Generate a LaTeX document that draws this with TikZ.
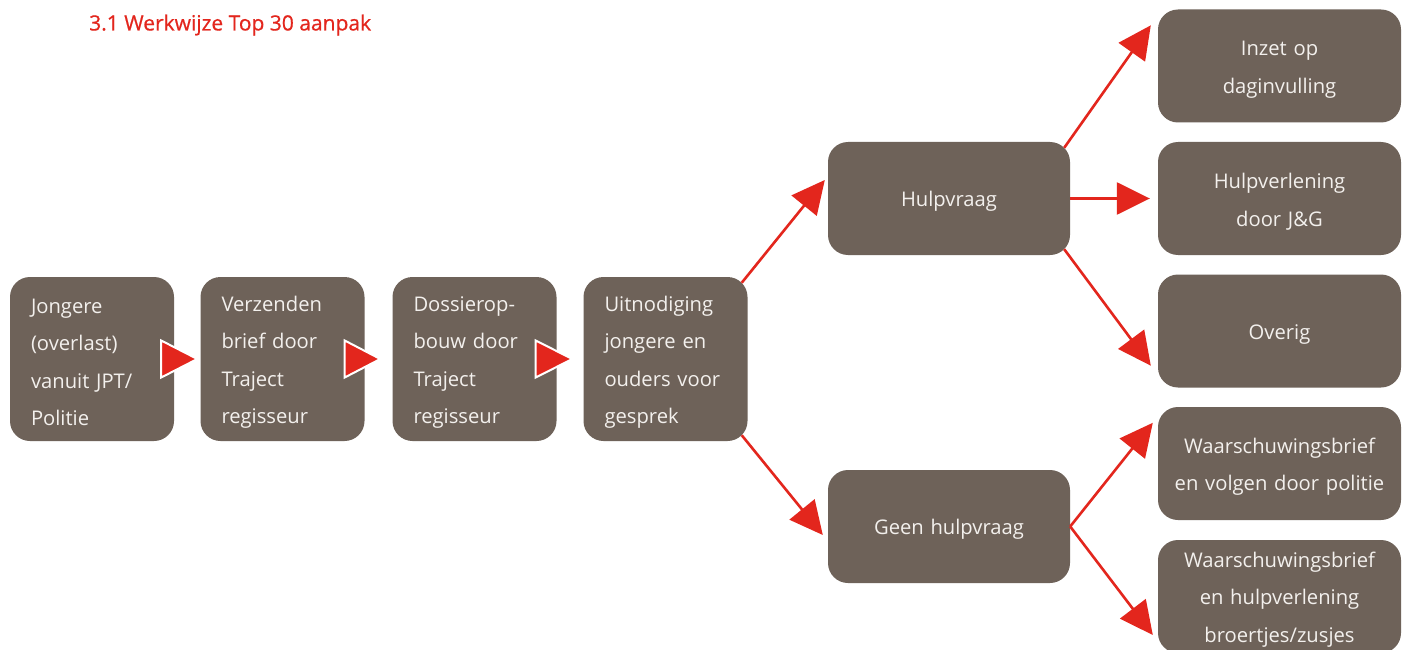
\documentclass[tikz,border=0pt]{standalone}
\usepackage{fontspec}
\setmainfont{Open Sans}
\usetikzlibrary{arrows.meta,calc}
\definecolor{boxbrown}{HTML}{6E6259}
\definecolor{flowred}{HTML}{E3261D}
\definecolor{boxtext}{HTML}{F3F0ED}
\tikzset{
  stepbox/.style={shape=rectangle, rounded corners=20pt, fill=boxbrown, draw=none,
    text=boxtext, font=\fontsize{20.2}{37.5}\selectfont, inner ysep=0pt,
    execute at begin node={\rule{0pt}{21.5pt}}},
  leftbox/.style={stepbox, minimum width=164pt, minimum height=164pt,
    inner xsep=21pt, text width=122pt, align=left},
  midbox/.style={stepbox, minimum width=242pt, minimum height=113pt,
    inner xsep=0pt, text width=242pt, align=center},
  outbox/.style={stepbox, minimum width=243pt, minimum height=113pt,
    inner xsep=0pt, text width=243pt, align=center},
  conn/.style={draw=flowred, line width=2.6pt, -{Triangle[length=33pt,width=32pt]}},
  tri/.style={fill=flowred, draw=white, line width=2pt, line join=miter}
}
\begin{document}
\begin{tikzpicture}[x=1pt,y=-1pt]
\useasboundingbox (0,0) rectangle (1408,650);
\fill[white] (0,0) rectangle (1408,650);
\node[anchor=west, text=flowred, font=\fontsize{21}{24}\selectfont\addfontfeature{FakeBold=0.6}, inner sep=0pt] (title) at (89,25) {3.1 Werkwijze Top 30 aanpak};

\node[leftbox] (b1) at (92,359) {Jongere\\(overlast)\\vanuit JPT/\\Politie};
\node[leftbox] (b2) at (282.5,359) {Verzenden\\brief door\\Traject\\regisseur};
\node[leftbox] (b3) at (474.5,359) {Dossierop-\\bouw door\\Traject\\regisseur};
\node[leftbox] (b4) at (665.5,359) {Uitnodiging\\jongere en\\ouders voor\\gesprek};

\node[midbox] (hulp) at (949,198.5) {Hulpvraag};
\node[midbox] (geen) at (949,526.5) {Geen hulpvraag};

\node[outbox] (inzet) at (1279.5,66) {Inzet op\\daginvulling};
\node[outbox] (hv) at (1279.5,198.5) {Hulpverlening\\door J\&G};
\node[outbox] (ov) at (1279.5,331) {Overig};
\node[outbox] (w1) at (1279.5,463.5) {Waarschuwingsbrief\\en volgen door politie};
\node[outbox] (w2) at (1279.5,596.5) {Waarschuwingsbrief\\en hulpverlening\\broertjes/zusjes};

% triangles between the first boxes
\filldraw[tri] ($(b1.east)+(-13,-18.5)$) -- ($(b1.east)+(-13,18.5)$) -- ($(b2.west)+(-3,0)$) -- cycle;
\filldraw[tri] ($(b2.east)+(-20,-18.5)$) -- ($(b2.east)+(-20,18.5)$) -- ($(b3.west)+(-12,0)$) -- cycle;
\filldraw[tri] ($(b3.east)+(-21,-18.5)$) -- ($(b3.east)+(-21,18.5)$) -- ($(b4.west)+(-11,0)$) -- cycle;

% connectors
\draw[conn] ($(b4.north east)+(-6,6)$) -- ($(hulp.west)+(-3,-18.5)$);
\draw[conn] ($(b4.south east)+(-6,-6)$) -- ($(geen.west)+(-5,8.5)$);
\draw[conn] ($(hulp.north east)+(-6,6)$) -- ($(inzet.north west)+(-7,16)$);
\draw[conn] (hulp.east) -- ($(hv.west)+(-8,0)$);
\draw[conn] ($(hulp.south east)+(-6,-6)$) -- ($(ov.south west)+(-7,-22)$);
\draw[conn] (geen.east) -- ($(w1.north west)+(-5,16)$);
\draw[conn] (geen.east) -- ($(w2.west)+(-5,38.5)$);
\end{tikzpicture}
\end{document}
